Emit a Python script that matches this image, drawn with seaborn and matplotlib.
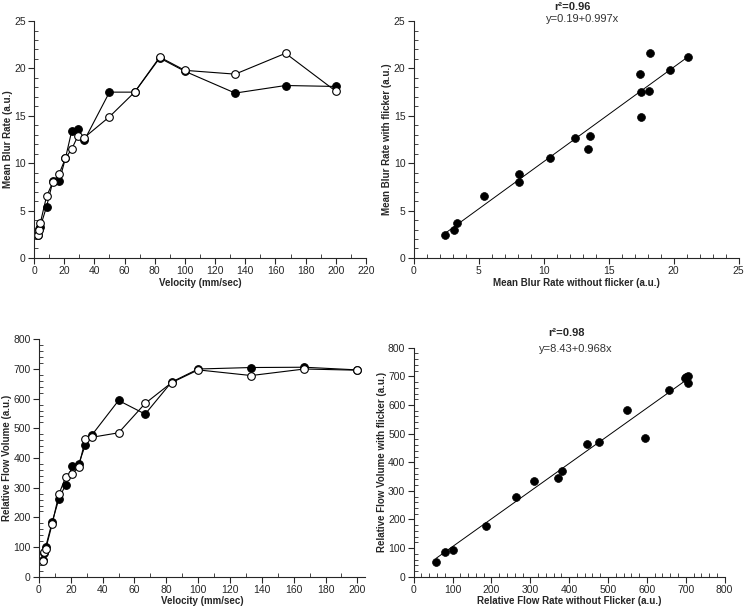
"""Blur rate / flow volume vs velocity, with and without flicker."""

import matplotlib.pyplot as plt
import numpy as np
import pandas as pd
import seaborn as sns
from matplotlib.ticker import MultipleLocator

velocity = [2.5, 3.3, 4.2, 8.3, 12.5, 16.7, 20.8, 25.0, 29.2, 33.3,
            50.0, 66.7, 83.3, 100.0, 133.3, 166.7, 200.0]

# Mean blur rate (a.u.)
blur_no_flicker = [2.4, 3.1, 3.3, 5.4, 8.1, 8.1, 10.5, 13.4, 13.6, 12.4,
                   17.5, 17.5, 21.1, 19.7, 17.4, 18.2, 18.1]
blur_flicker = [2.4, 2.9, 3.7, 6.5, 8.0, 8.9, 10.5, 11.5, 12.9, 12.7,
                14.9, 17.5, 21.2, 19.8, 19.4, 21.6, 17.6]

# Relative flow volume (a.u.)
flow_no_flicker = [58, 80, 100, 185, 262, 310, 372, 381, 445, 478,
                   594, 548, 656, 700, 705, 706, 697]
flow_flicker = [52, 85, 93, 178, 278, 335, 346, 371, 465, 470,
                485, 584, 654, 697, 678, 700, 696]

blur_fit = (0.19, 0.997)
flow_fit = (8.43, 0.968)
blur_r2 = "0.96"
flow_r2 = "0.98"

sns.set_style("ticks")
plt.rcParams["font.family"] = ["Liberation Sans", "DejaVu Sans"]

fig = plt.figure(figsize=(7.44, 6.09), dpi=100)

LABEL_KW = dict(fontsize=7, fontweight="bold", labelpad=1)


def style_axes(ax, major_x, minor_x, major_y, minor_y):
    sns.despine(ax=ax)
    ax.xaxis.set_major_locator(MultipleLocator(major_x))
    ax.xaxis.set_minor_locator(MultipleLocator(minor_x))
    ax.yaxis.set_major_locator(MultipleLocator(major_y))
    ax.yaxis.set_minor_locator(MultipleLocator(minor_y))
    ax.tick_params(which="major", direction="out", length=4, width=0.8,
                   labelsize=7.5, pad=2)
    ax.tick_params(which="minor", direction="in", length=3, width=0.6)
    for s in ("left", "bottom"):
        ax.spines[s].set_linewidth(0.8)


def velocity_panel(ax, no_flick, flick):
    line_kw = dict(color="black", linewidth=0.8, marker="o", markersize=5.5,
                   markeredgecolor="black", markeredgewidth=0.8)
    sns.lineplot(x=velocity, y=no_flick, ax=ax, sort=False,
                 markerfacecolor="black", **line_kw)
    sns.lineplot(x=velocity, y=flick, ax=ax, sort=False,
                 markerfacecolor="white", **line_kw)


def scatter_panel(ax, xs, ys, fit, r2, r2_y, eq_y):
    sns.scatterplot(x=xs, y=ys, ax=ax, color="black", s=32,
                    edgecolor="black", linewidth=0.5, zorder=3)
    b0, b1 = fit
    fx = np.array([min(xs), max(xs)])
    sns.lineplot(x=fx, y=b0 + b1 * fx, ax=ax, color="black", linewidth=0.7)
    ax.text(0.49, r2_y, f"r\u00b2={r2}", transform=ax.transAxes,
            ha="center", va="center", fontsize=8, fontweight="bold")
    ax.text(0.52, eq_y, f"y={b0:g}+{b1:g}x", transform=ax.transAxes,
            ha="center", va="center", fontsize=8, color="#333333")


# Top left
ax1 = fig.add_axes([0.0457, 0.5764, 0.4462, 0.389])
velocity_panel(ax1, blur_no_flicker, blur_flicker)
ax1.set_xlim(0, 220)
ax1.set_ylim(0, 25)
style_axes(ax1, 20, 10, 5, 1)
ax1.set_xlabel("Velocity (mm/sec)", **LABEL_KW)
ax1.set_ylabel("Mean Blur Rate (a.u.)", **LABEL_KW)

# Top right
ax2 = fig.add_axes([0.556, 0.5764, 0.4368, 0.389])
scatter_panel(ax2, blur_no_flicker, blur_flicker, blur_fit, blur_r2,
              1.058, 1.008)
ax2.set_xlim(0, 25)
ax2.set_ylim(0, 25)
style_axes(ax2, 5, 1, 5, 1)
ax2.set_xlabel("Mean Blur Rate without flicker (a.u.)", **LABEL_KW)
ax2.set_ylabel("Mean Blur Rate with flicker (a.u.)", **LABEL_KW)

# Bottom left
ax3 = fig.add_axes([0.0524, 0.053, 0.4386, 0.3898])
velocity_panel(ax3, flow_no_flicker, flow_flicker)
ax3.set_xlim(0, 205)
ax3.set_ylim(0, 800)
style_axes(ax3, 20, 10, 100, 20)
ax3.set_xlabel("Velocity (mm/sec)", **LABEL_KW)
ax3.set_ylabel("Relative Flow Volume (a.u.)", **LABEL_KW)

# Bottom right
ax4 = fig.add_axes([0.556, 0.053, 0.418, 0.376])
scatter_panel(ax4, flow_no_flicker, flow_flicker, flow_fit, flow_r2,
              1.064, 0.995)
ax4.set_xlim(0, 800)
ax4.set_ylim(0, 800)
style_axes(ax4, 100, 20, 100, 20)
ax4.set_xlabel("Relative Flow Rate without Flicker (a.u.)", **LABEL_KW)
ax4.set_ylabel("Relative Flow Volume with flicker (a.u.)", **LABEL_KW)

fig.savefig("out.png", dpi=100, facecolor="white")
plt.close(fig)
